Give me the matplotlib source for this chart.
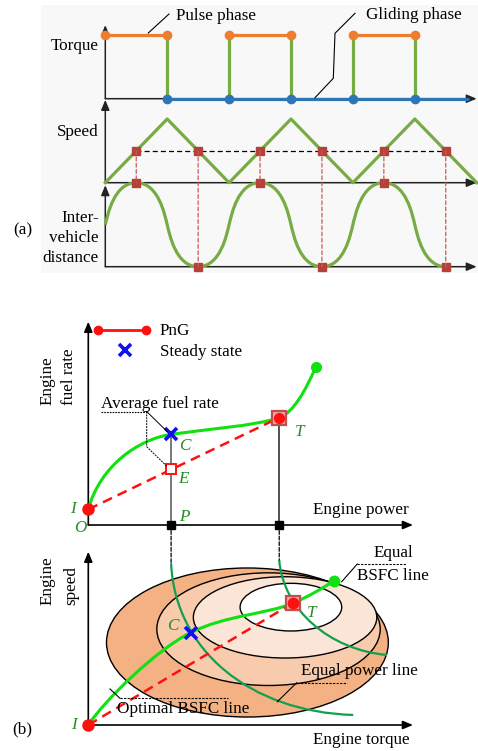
import matplotlib
matplotlib.use("Agg")
import matplotlib.pyplot as plt
from matplotlib.path import Path
from matplotlib.patches import PathPatch, Ellipse, Rectangle, ConnectionPatch
from matplotlib.lines import Line2D

W, H = 478, 751
plt.rcParams['font.family'] = ['Liberation Serif', 'DejaVu Serif']
FS = 12.3

# ---------------- (a) pulse-and-glide cycle ----------------
t_end = 6.0
pulse_start = [0, 2, 4]
pulse_end = [1, 3, 5]
switch_t = [1, 2, 3, 4, 5]
torque_high, torque_low = 1.0, 0.0

speed_t = [0, 1, 2, 3, 4, 5, 6]
speed_v = [0, 1, 0, 1, 0, 1, 0]
speed_avg = 0.5
cross_t = [0.5, 1.5, 2.5, 3.5, 4.5, 5.5]

dist_t = [0, 0.5, 1, 1.5, 2, 2.5, 3, 3.5, 4, 4.5, 5, 5.5]
dist_v = [0.5, 1, 0.5, 0, 0.5, 1, 0.5, 0, 0.5, 1, 0.5, 0]
dist_at_cross = [1, 0, 1, 0, 1, 0]

# ---------------- (b) upper: fuel rate vs power ----------------
power_C, power_T = 2.55, 5.88
fuel_I, fuel_C, fuel_T, fuel_E = 0.77, 4.46, 5.28, 2.73
fuel_curve_x = [0, 0.36, 1.53, 2.55, 3.59, 5.13, 5.88, 6.31, 6.70, 7.01]
fuel_curve_y = [0.77, 2.90, 4.21, 4.46, 4.70, 4.87, 5.28, 5.51, 6.64, 7.79]

# ---------------- (b) lower: engine map ----------------
bsfc_cx = [4.90, 5.55, 6.06, 6.24]
bsfc_cy = [4.76, 5.53, 6.21, 6.80]
bsfc_w = [8.68, 6.88, 5.65, 3.13]
bsfc_h = [8.60, 6.50, 4.69, 2.75]
bsfc_colors = ['#F4B183', '#F8CBAD', '#FBE5D6', '#FFFFFF']

opt_x = [0, 0.51, 2.08, 3.15, 4.23, 5.53, 6.29, 6.76, 7.20, 7.57]
opt_y = [0, 1.44, 4.32, 5.33, 6.34, 6.41, 7.02, 7.39, 7.87, 8.33]
torque_C, speed_C = 3.15, 5.33
torque_T, speed_T = 6.29, 7.02

pw1_x = [2.55, 2.67, 4.98, 8.16]
pw1_y = [9.33, 4.33, 0.75, 0.58]
pw2_x = [5.88, 6.00, 7.44, 9.20]
pw2_y = [9.52, 6.64, 4.33, 4.04]

# colours
ORANGE, BLUE_A, GREEN_A, SQ_RED = '#ED7D31', '#2E75B6', '#77AC44', '#B5413A'
LIME, DKGREEN, LBL_GREEN = '#11E011', '#10A050', '#2A8A2A'
RED, XBLUE = '#FF1010', '#1010F0'

fig = plt.figure(figsize=(W / 100, H / 100), dpi=100)


def fx(px):
    return px / W


def fy(py):
    return 1 - py / H


def axes_px(left, top, right, bottom):
    ax = fig.add_axes([fx(left), fy(bottom), (right - left) / W, (bottom - top) / H])
    ax.set_axis_off()
    ax.patch.set_visible(False)
    return ax


def ptext(x, y, s, **kw):
    kw.setdefault('fontsize', FS)
    kw.setdefault('va', 'center')
    fig.text(fx(x), fy(y), s, **kw)


def pline(xs, ys, **kw):
    kw.setdefault('color', 'black')
    kw.setdefault('lw', 0.8)
    fig.add_artist(Line2D([fx(x) for x in xs], [fy(y) for y in ys],
                          transform=fig.transFigure, **kw))


def axis_arrow(ax, x0, y0, x1, y1, color='#222222', lw=1.1):
    ax.annotate('', xy=(x1, y1), xytext=(x0, y0), annotation_clip=False,
                arrowprops=dict(arrowstyle='-|>,head_length=0.6,head_width=0.25',
                                mutation_scale=10, color=color, lw=lw,
                                shrinkA=0, shrinkB=0), zorder=2)


# light backdrop of panel (a)
fig.add_artist(Rectangle((fx(41), fy(273)), (478 - 41) / W, (273 - 5) / H,
                         transform=fig.transFigure, facecolor='#F8F8F8',
                         edgecolor='none', zorder=-5))

# ---- torque ----
ax_tq = axes_px(105.3, 25.1, 476.7, 98.7)
ax_tq.set_xlim(0, t_end)
ax_tq.set_ylim(0, 1.15)
axis_arrow(ax_tq, 0, 0, t_end, 0)
axis_arrow(ax_tq, 0, 0, 0, 1.15)
ax_tq.plot([switch_t[0], t_end - 0.12], [torque_low, torque_low], color=BLUE_A,
           lw=2.3, zorder=3, clip_on=False, solid_capstyle='butt')
for t in switch_t:
    ax_tq.plot([t, t], [torque_low, torque_high], color=GREEN_A, lw=2.3, zorder=3,
               clip_on=False)
for a, b in zip(pulse_start, pulse_end):
    ax_tq.plot([a, b], [torque_high, torque_high], color=ORANGE, lw=2.3, zorder=4,
               clip_on=False, marker='o', ms=6, mfc=ORANGE, mec=ORANGE)
ax_tq.plot(switch_t, [torque_low] * len(switch_t), 'o', color=BLUE_A, ms=6,
           zorder=5, clip_on=False)

# ---- speed ----
ax_sp = axes_px(105.3, 99.9, 476.7, 182.7)
ax_sp.set_xlim(0, t_end)
ax_sp.set_ylim(0, 1.3)
axis_arrow(ax_sp, 0, 0, t_end, 0)
axis_arrow(ax_sp, 0, 0, 0, 1.3)
ax_sp.plot(speed_t, speed_v, color=GREEN_A, lw=2.3, zorder=3, clip_on=False)
ax_sp.plot([cross_t[0], cross_t[-1]], [speed_avg, speed_avg], color='black', lw=0.9,
           dashes=(4, 2.5), zorder=3)
ax_sp.plot(cross_t, [speed_avg] * len(cross_t), 's', color=SQ_RED, ms=5.2, zorder=5)

# ---- inter-vehicle distance ----
ax_d = axes_px(105.3, 182.7, 476.7, 266.7)
ax_d.set_xlim(0, t_end)
ax_d.set_ylim(0, 1)
axis_arrow(ax_d, 0, 0, t_end, 0)
axis_arrow(ax_d, 0, 0, 0, 0.97)

verts = [(dist_t[0], dist_v[0])]
codes = [Path.MOVETO]
for i in range(len(dist_t) - 1):
    t0, v0, t1, v1 = dist_t[i], dist_v[i], dist_t[i + 1], dist_v[i + 1]
    flat0 = v0 in (0, 1)
    if flat0:
        c1 = (t0 + 0.36, v0)
        c2 = (t1 - 0.04, v1 + (0.12 if v0 > v1 else -0.12))
    else:
        c1 = (t0 + 0.04, v0 + (0.12 if v1 > v0 else -0.12))
        c2 = (t1 - 0.36, v1)
    verts += [c1, c2, (t1, v1)]
    codes += [Path.CURVE4] * 3
ax_d.add_patch(PathPatch(Path(verts, codes), facecolor='none', edgecolor=GREEN_A,
                         lw=2.3, zorder=3, clip_on=False))
ax_d.plot(cross_t, dist_at_cross, 's', color=SQ_RED, ms=5.2, zorder=5, clip_on=False)
for t, d in zip(cross_t, dist_at_cross):
    fig.add_artist(ConnectionPatch(xyA=(t, speed_avg), coordsA=ax_sp.transData,
                                   xyB=(t, d), coordsB=ax_d.transData,
                                   color='#C85A55', lw=0.9, ls=(0, (3, 2)), zorder=1))

ptext(99, 45.7, 'Torque', ha='right')
ptext(99, 131.7, 'Speed', ha='right')
ptext(99, 218.3, 'Inter-', ha='right')
ptext(99, 238.3, 'vehicle', ha='right')
ptext(99, 258.3, 'distance', ha='right')
ptext(22.7, 230, '(a)', ha='center')
ptext(176, 16, 'Pulse phase', ha='left')
ptext(366, 15, 'Gliding phase', ha='left')
pline([148.3, 169], [33, 14])
pline([315, 333.3, 335, 355], [97.7, 78.3, 33.3, 13.3])

# ---------------- (b) upper ----------------
ax_f = axes_px(88.3, 321.7, 413, 525)
ax_f.set_xlim(0, 10)
ax_f.set_ylim(0, 10)
axis_arrow(ax_f, 0, 0, 10, 0, color='black', lw=1.2)
axis_arrow(ax_f, 0, 0, 0, 10, color='black', lw=1.2)

ax_f.plot([power_C, power_C], [0, fuel_C], color='#555555', lw=1.1, zorder=2)
ax_f.plot([power_T, power_T], [0, fuel_T], color='#222222', lw=1.1, zorder=2)
fcodes = [Path.MOVETO] + [Path.CURVE4] * (len(fuel_curve_x) - 1)
ax_f.add_patch(PathPatch(Path(list(zip(fuel_curve_x, fuel_curve_y)), fcodes),
                         facecolor='none', edgecolor=LIME, lw=2.2, zorder=3,
                         clip_on=False))
ax_f.plot([0, power_T], [fuel_I, fuel_T], color=RED, lw=1.8, dashes=(4, 2.5), zorder=3)
ax_f.plot([fuel_curve_x[-1]], [fuel_curve_y[-1]], 'o', color=LIME, ms=7, zorder=5)
ax_f.plot([power_C, power_T], [0, 0], 's', color='black', ms=6, zorder=5,
          clip_on=False)
ax_f.plot([power_T], [fuel_T], 's', ms=10.5, mfc='#EBA9A5', mec='#C0504D', mew=1.6,
          zorder=5)
ax_f.plot([power_T], [fuel_T], 'o', color=RED, ms=7, zorder=6)
ax_f.plot([power_C], [fuel_E], 's', ms=7, mfc='white', mec=RED, mew=1.4, zorder=5)
ax_f.plot([power_C], [fuel_C], 'x', color=XBLUE, ms=8.5, mew=2.6, zorder=6)
ax_f.plot([0], [fuel_I], 'o', color=RED, ms=8, zorder=6, clip_on=False)

lbl = dict(color=LBL_GREEN, fontstyle='italic', fontsize=FS, ha='center')
ptext(184.3, 445.7, 'C', **lbl)
ptext(183.3, 479.3, 'E', **lbl)
ptext(299.3, 431.7, 'T', **lbl)
ptext(184, 516.7, 'P', **lbl)
ptext(72.7, 509.3, 'I', **lbl)
ptext(80, 528.5, 'O', **lbl)

# legend
pline([97.7, 146], [330, 330], color=RED, lw=2, marker='o', ms=6)
pline([125], [350], color=XBLUE, marker='x', ms=8.5, mew=2.6, lw=0)
ptext(160, 331, 'PnG', ha='left')
ptext(160, 352, 'Steady state', ha='left')

ptext(100.7, 403.5, 'Average fuel rate', ha='left')
pline([100.7, 146.7], [411.5, 411.5], ls=(0, (1.5, 1)), lw=0.8)
pline([146.7, 167.3], [411.5, 431.7], lw=0.7)
pline([146.7, 146.7, 167.3], [411.5, 446.7, 466.7], lw=0.7, ls=(0, (2, 1)))
ptext(313, 510, 'Engine power', ha='left')
ptext(47.5, 405, 'Engine', rotation=90, ha='center', va='bottom')
ptext(69, 405, 'fuel rate', rotation=90, ha='center', va='bottom')

# ---------------- (b) lower ----------------
ax_m = axes_px(88.3, 551.7, 413, 725)
ax_m.set_xlim(0, 10)
ax_m.set_ylim(0, 10)
for cx, cy, w, h, c in zip(bsfc_cx, bsfc_cy, bsfc_w, bsfc_h, bsfc_colors):
    ax_m.add_patch(Ellipse((cx, cy), w, h, facecolor=c, edgecolor='black', lw=1.0,
                           zorder=1))
axis_arrow(ax_m, 0, 0, 10, 0, color='black', lw=1.2)
axis_arrow(ax_m, 0, 0, 0, 10, color='black', lw=1.2)

pcodes = [Path.MOVETO, Path.CURVE4, Path.CURVE4, Path.CURVE4]
for xs, ys in ((pw1_x, pw1_y), (pw2_x, pw2_y)):
    ax_m.add_patch(PathPatch(Path(list(zip(xs, ys)), pcodes), facecolor='none',
                             edgecolor=DKGREEN, lw=1.6, zorder=2, clip_on=False))
ocodes = [Path.MOVETO] + [Path.CURVE4] * (len(opt_x) - 1)
ax_m.add_patch(PathPatch(Path(list(zip(opt_x, opt_y)), ocodes), facecolor='none',
                         edgecolor=LIME, lw=2.2, zorder=3, clip_on=False))
ax_m.plot([0, torque_T], [0, speed_T], color=RED, lw=1.8, dashes=(4, 2.5), zorder=3)
ax_m.plot([opt_x[-1]], [opt_y[-1]], 'o', color=LIME, ms=7.5, zorder=5)
ax_m.plot([torque_T], [speed_T], 's', ms=10.5, mfc='#EBA9A5', mec='#C0504D', mew=1.6,
          zorder=5)
ax_m.plot([torque_T], [speed_T], 'o', color=RED, ms=7.5, zorder=6)
ax_m.plot([torque_C], [speed_C], 'x', color=XBLUE, ms=8.5, mew=2.6, zorder=6)
ax_m.plot([0], [0], 'o', color=RED, ms=8, zorder=6, clip_on=False)

for p, xs, ys in ((power_C, pw1_x, pw1_y), (power_T, pw2_x, pw2_y)):
    fig.add_artist(ConnectionPatch(xyA=(p, 0), coordsA=ax_f.transData,
                                   xyB=(xs[0], ys[0]), coordsB=ax_m.transData,
                                   color='black', lw=0.9, ls=(0, (3, 1.5)), zorder=1))

ptext(172.7, 626, 'C', **lbl)
ptext(311.7, 612.7, 'T', **lbl)
ptext(74, 725, 'I', **lbl)

ptext(393, 553.3, 'Equal', ha='center')
ptext(392.5, 575.5, 'BSFC line', ha='center')
pline([357.3, 406], [564, 564], ls=(0, (2, 1.2)))
pline([357.3, 341.7], [564, 581.7])
ptext(301, 670.7, 'Equal power line', ha='left')
pline([296.7, 347.3], [682.7, 682.7], ls=(0, (2, 1.2)))
pline([296.7, 277.3], [682.7, 701.7])
ptext(117.3, 709.3, 'Optimal BSFC line', ha='left')
pline([120, 228.3], [698.3, 698.3], ls=(0, (2, 1.2)))
pline([120, 110], [698.3, 689])
ptext(313, 740, 'Engine torque', ha='left')
ptext(47.5, 605, 'Engine', rotation=90, ha='center', va='bottom')
ptext(70.8, 605, 'speed', rotation=90, ha='center', va='bottom')
ptext(22.7, 729, '(b)', ha='center')

fig.savefig('out.png', dpi=100)
